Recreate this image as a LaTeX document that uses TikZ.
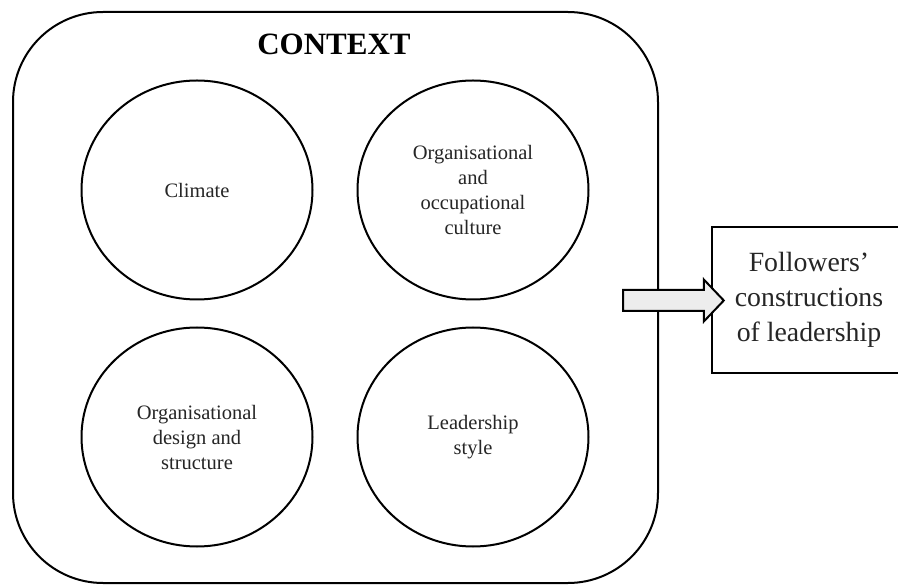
\documentclass[tikz,border=0pt]{standalone}
\usepackage{fontspec}
\setmainfont{Liberation Serif}
\usetikzlibrary{shapes.geometric,calc}
\definecolor{arrowfill}{HTML}{EDEDED}
\definecolor{inktext}{HTML}{262626}
\tikzset{
  outline/.style={draw=black, line width=2pt},
  factor/.style={outline, ellipse, inner sep=0pt,
    minimum width=231pt, minimum height=219pt,
    align=center, text=inktext,
    font=\fontsize{20.5}{25}\selectfont},
  frame/.style={outline, rectangle, rounded corners=90pt, inner sep=0pt},
  outcome/.style={rectangle, inner sep=0pt, align=center, text=inktext,
    font=\fontsize{27.8}{35}\selectfont},
  title/.style={font=\fontsize{31}{36}\selectfont\bfseries, text=black},
  bigarrow/.style={outline, fill=arrowfill, line join=miter}
}
\begin{document}
\begin{tikzpicture}[x=1pt, y=-1pt]
  % canvas
  \fill[white] (0,0) rectangle (898,585);
  \useasboundingbox (0,0) rectangle (898,585);

  % context frame
  \node[frame, minimum width=645pt, minimum height=571pt] (ctx) at (335.5,297.5) {};
  \node[title] (ctxlabel) at (334,44) {CONTEXT};

  % the four contextual factors
  \node[factor] (climate) at (197,190) {Climate};
  \node[factor] (culture) at (473,190) {Organisational\\and\\occupational\\culture};
  \node[factor] (design)  at (197,437) {Organisational\\design and\\structure};
  \node[factor] (style)   at (473,437) {Leadership\\style};

  % outcome box; its right side runs past the edge of the page
  \node[outcome, minimum width=194pt, minimum height=146pt] (fol) at (809,300)
    {Followers’\\constructions\\of leadership};
  \draw[outline] ($(fol.north east)+(40,0)$) -- (fol.north west)
    -- (fol.south west) -- ($(fol.south east)+(40,0)$);

  % block arrow from the context into the outcome box
  \coordinate (tail) at ($(ctx.east |- fol.west)+(-36,0.5)$);
  \coordinate (tip)  at ($(fol.west)+(12,0.5)$);
  \draw[bigarrow]
    ($(tail)+(0,-10.5)$) -- ($(tip)+(-20,-10.5)$) -- ($(tip)+(-20,-21)$) --
    (tip) -- ($(tip)+(-20,21)$) -- ($(tip)+(-20,10.5)$) --
    ($(tail)+(0,10.5)$) -- cycle;
\end{tikzpicture}
\end{document}
